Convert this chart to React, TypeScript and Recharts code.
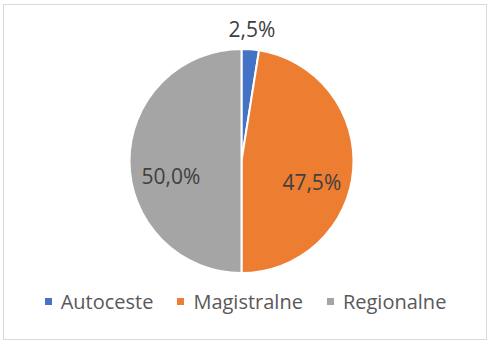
import React from 'react';
import { PieChart, Pie, Cell, Legend } from 'recharts';

const categories = ['Autoceste', 'Magistralne', 'Regionalne'];
const shares = [2.5, 47.5, 50.0];
const colors = ['#4472C4', '#ED7D31', '#A5A5A5'];

const data = categories.map((name, i) => ({ name, value: shares[i] }));

const RAD = Math.PI / 180;

// small slices get their label outside, large ones inside (shifted down like Excel's best fit)
const renderLabel = (props: any) => {
  const { cx, cy, midAngle, outerRadius, value } = props;
  const outside = value < 5;
  const r = outside ? outerRadius + 20 : outerRadius * 0.63;
  const x = cx + r * Math.cos(-midAngle * RAD);
  const y = cy + r * Math.sin(-midAngle * RAD) + (outside ? 0 : 15);
  return (
    <text
      x={x}
      y={y}
      fill="#404040"
      fontSize={21}
      fontFamily="'Open Sans', sans-serif"
      textAnchor="middle"
      dominantBaseline="central"
    >
      {value.toFixed(1).replace('.', ',') + '%'}
    </text>
  );
};

const renderLegend = (props: any) => {
  const { payload } = props;
  return (
    <div
      style={{
        display: 'flex',
        justifyContent: 'center',
        gap: 24,
        fontFamily: "'Open Sans', sans-serif",
        fontSize: 20,
        color: '#595959',
      }}
    >
      {payload.map((entry: any) => (
        <div key={entry.value} style={{ display: 'flex', alignItems: 'center' }}>
          <span
            style={{
              width: 7,
              height: 7,
              background: entry.color,
              marginRight: 9,
              display: 'inline-block',
            }}
          />
          <span>{entry.value}</span>
        </div>
      ))}
    </div>
  );
};

export default function App() {
  return (
    <div style={{ position: 'absolute', left: 0, top: 0, width: 491, height: 345, background: '#fff' }}>
      <div
        style={{
          position: 'absolute',
          left: 3,
          top: 4,
          width: 482,
          height: 334,
          border: '1px solid #D9D9D9',
        }}
      />
      <PieChart
        width={491}
        height={345}
        margin={{ top: 0, right: 0, bottom: 0, left: 0 }}
        style={{ position: 'absolute', left: 0, top: 0 }}
      >
        <Pie
          data={data}
          dataKey="value"
          nameKey="name"
          cx={241.5}
          cy={161}
          outerRadius={112}
          startAngle={90}
          endAngle={-270}
          stroke="#fff"
          strokeWidth={2}
          label={renderLabel}
          labelLine={false}
          isAnimationActive={false}
        >
          {data.map((d, i) => (
            <Cell key={d.name} fill={colors[i]} />
          ))}
        </Pie>
        <Legend
          verticalAlign="bottom"
          content={renderLegend}
          wrapperStyle={{ bottom: 30 }}
        />
      </PieChart>
    </div>
  );
}
